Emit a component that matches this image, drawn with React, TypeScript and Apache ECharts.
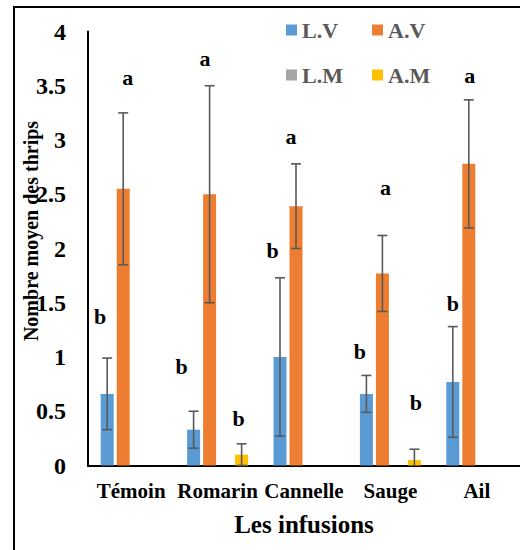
import React, { useEffect, useRef } from 'react';
import * as echarts from 'echarts';

// ---- data ----
const categories = ['Témoin', 'Romarin', 'Cannelle', 'Sauge', 'Ail'];
const seriesNames = ['L.V', 'A.V', 'L.M', 'A.M'];
const lvValues = [0.66, 0.33, 1.0, 0.66, 0.77];
const lvErrors = [0.33, 0.17, 0.73, 0.17, 0.51];
const avValues = [2.55, 2.5, 2.39, 1.77, 2.78];
const avErrors = [0.7, 1.0, 0.39, 0.35, 0.59];
const lmValues = [0, 0, 0, 0, 0];
const lmErrors = [0, 0, 0, 0, 0];
const amValues = [0, 0.1, 0, 0.05, 0];
const amErrors = [0, 0.1, 0, 0.1, 0];
// significance letters and the value level where each is written
const lvLetters = ['b', 'b', 'b', 'b', 'b'];
const lvLetterY = [1.375, 0.91, 1.98, 1.05, 1.49];
const avLetters = ['a', 'a', 'a', 'a', 'a'];
const avLetterY = [3.58, 3.75, 3.03, 2.56, 3.59];
const lmLetters = ['', '', '', '', ''];
const lmLetterY = [0, 0, 0, 0, 0];
const amLetters = ['', 'b', '', 'b', ''];
const amLetterY = [0, 0.43, 0, 0.58, 0];
const yMin = 0;
const yMax = 4;
const yInterval = 0.5;
const xTitle = 'Les infusions';
const yTitle = 'Nombre moyen des thrips';

// ---- styles ----
const FONT = "'Liberation Serif', 'Times New Roman', serif";
const colors = ['#5B9BD5', '#ED7D31', '#A5A5A5', '#FFC000'];
const letterDx = [
  [-7, -12, -7.5, -6.5, 0],
  [4.5, -4.5, -5, 3, 1],
  [0, 0, 0, 0, 0],
  [0, -3, 0, 1.5, 0],
];
const legendPos = [
  [286, 19],
  [372, 19],
  [286, 64],
  [372, 64],
];
const BAR_W = 13;
const BAR_SPACING = 16;

export default function App() {
  const ref = useRef<HTMLDivElement>(null);
  useEffect(() => {
    if (!ref.current) return;
    const chart = echarts.init(ref.current, undefined, { renderer: 'svg' });
    const values = [lvValues, avValues, lmValues, amValues];
    const errors = [lvErrors, avErrors, lmErrors, amErrors];
    const letters = [lvLetters, avLetters, lmLetters, amLetters];
    const letterY = [lvLetterY, avLetterY, lmLetterY, amLetterY];

    const barSeries = seriesNames.map((name, s) => ({
      type: 'bar',
      name,
      data: values[s],
      barWidth: BAR_W,
      barGap: '23%',
      itemStyle: { color: colors[s] },
      z: 2,
      markPoint: {
        symbol: 'circle',
        symbolSize: 1,
        itemStyle: { color: 'rgba(0,0,0,0)' },
        silent: true,
        data: letters[s]
          .map((l, i) => ({ l, i }))
          .filter((d) => d.l !== '')
          .map((d) => ({
            name: d.l,
            coord: [d.i, letterY[s][d.i]],
            label: {
              show: true,
              position: 'inside',
              formatter: '{b}',
              offset: [letterDx[s][d.i], 0],
              fontSize: 22,
              fontWeight: 'bold',
              fontFamily: FONT,
              color: '#000',
            },
          })),
      },
    }));

    const errData: number[][] = [];
    seriesNames.forEach((_, s) => {
      values[s].forEach((v, i) => {
        if (errors[s][i] > 0) errData.push([i, v, errors[s][i], s]);
      });
    });

    const errorSeries = {
      type: 'custom',
      name: 'err',
      z: 5,
      silent: true,
      encode: { x: 0, y: 1 },
      data: errData,
      renderItem: (params: any, api: any) => {
        const ci = api.value(0);
        const mean = api.value(1);
        const err = api.value(2);
        const k = api.value(3);
        const dx = (k - 1.5) * BAR_SPACING;
        const top = api.coord([ci, mean + err]);
        const lowVal = mean - err;
        const bot = api.coord([ci, Math.max(yMin, lowVal)]);
        const x = top[0] + dx;
        const style = { stroke: '#595959', lineWidth: 1.6 };
        const children: any[] = [
          { type: 'line', shape: { x1: x, y1: top[1], x2: x, y2: bot[1] }, style },
          { type: 'line', shape: { x1: x - 5, y1: top[1], x2: x + 5, y2: top[1] }, style },
        ];
        if (lowVal >= yMin - 1e-9) {
          children.push({ type: 'line', shape: { x1: x - 5, y1: bot[1], x2: x + 5, y2: bot[1] }, style });
        }
        return { type: 'group', children };
      },
    };

    const legends = seriesNames.map((name, s) => ({
      data: [name],
      left: legendPos[s][0],
      top: legendPos[s][1],
      orient: 'horizontal',
      icon: 'rect',
      itemWidth: 11,
      itemHeight: 11,
      itemGap: 0,
      padding: 0,
      selectedMode: false,
      textStyle: { fontSize: 22, fontWeight: 'bold', fontFamily: FONT, color: '#595959' },
    }));

    chart.setOption({
      animation: false,
      backgroundColor: '#fff',
      legend: legends,
      grid: { left: 88, top: 31.5, width: 441, height: 434, containLabel: false },
      xAxis: {
        type: 'category',
        data: categories,
        axisLine: { lineStyle: { color: '#000', width: 2 } },
        axisTick: { show: false },
        axisLabel: {
          interval: 0,
          hideOverlap: false,
          fontSize: 21,
          fontWeight: 'bold',
          fontFamily: FONT,
          color: '#000',
          margin: 15,
        },
        name: xTitle,
        nameLocation: 'middle',
        nameGap: 46,
        nameTextStyle: { fontSize: 25, fontWeight: 'bold', fontFamily: FONT, color: '#000' },
      },
      yAxis: {
        type: 'value',
        min: yMin,
        max: yMax,
        interval: yInterval,
        axisLine: { show: true, lineStyle: { color: '#000', width: 2 } },
        axisTick: { show: false },
        splitLine: { show: false },
        axisLabel: { fontSize: 24, fontWeight: 'bold', fontFamily: FONT, color: '#000', margin: 22 },
      },
      graphic: [
        {
          type: 'rect',
          shape: { x: 14, y: 7, width: 700, height: 700 },
          style: { fill: 'none', stroke: '#000', lineWidth: 2 },
          silent: true,
          z: 100,
        },
        {
          type: 'text',
          x: 31,
          y: 231,
          rotation: Math.PI / 2,
          style: {
            text: yTitle,
            fontSize: 20,
            fontWeight: 'bold',
            fontFamily: FONT,
            fill: '#000',
            textAlign: 'center',
            textVerticalAlign: 'middle',
          },
          z: 100,
        },
      ],
      series: [...barSeries, errorSeries],
    });
    return () => chart.dispose();
  }, []);
  return (
    <div
      ref={ref}
      style={{ position: 'absolute', left: 0, top: 0, width: 520, height: 550 }}
    />
  );
}
